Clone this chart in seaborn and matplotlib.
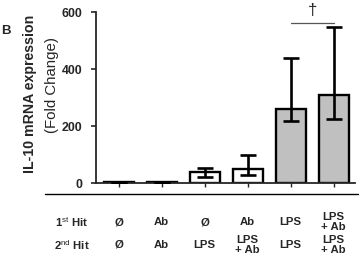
import matplotlib
matplotlib.use("Agg")
import matplotlib.pyplot as plt
import seaborn as sns
import pandas as pd
import numpy as np
from matplotlib.lines import Line2D
from matplotlib.transforms import blended_transform_factory

sns.set_style("ticks")
plt.rcParams['font.family'] = ['Liberation Sans', 'DejaVu Sans']
plt.rcParams['mathtext.fontset'] = 'custom'
plt.rcParams['mathtext.rm'] = 'Liberation Sans'
plt.rcParams['mathtext.bf'] = 'Liberation Sans:bold'

groups = ["G1", "G2", "G3", "G4", "G5", "G6"]
values = [3, 3, 39, 48, 260, 309]
err_low = [3, 3, 17, 21, 42, 84]
err_high = [0, 0, 12, 52, 178, 238]
first_hit = ["Ø", "Ab", "Ø", "Ab", "LPS", "LPS\n+ Ab"]
second_hit = ["Ø", "Ab", "LPS", "LPS\n+ Ab", "LPS", "LPS\n+ Ab"]
colors = ["white", "white", "white", "white", "#c0c0c0", "#c0c0c0"]
yticks = [0, 200, 400, 600]
sig_pair = (4, 5)
sig_y = 560

df = pd.DataFrame({"group": groups, "value": values})

fig = plt.figure(figsize=(3.62, 2.62), dpi=100)
ax = fig.add_axes([0.265, 0.3015, 0.715, 0.6525])

sns.barplot(data=df, x="group", y="value", hue="group", palette=colors,
            edgecolor="black", linewidth=1.7, width=0.7, legend=False, ax=ax,
            errorbar=None)
xs = np.arange(len(groups))
ax.errorbar(xs, values, yerr=[err_low, err_high], fmt="none", ecolor="black",
            elinewidth=1.9, capsize=6, capthick=1.9, zorder=5)

ax.set_ylim(0, 600)
ax.set_xlim(-0.53, 5.49)
ax.set_yticks(yticks)
ax.set_yticklabels([str(t) for t in yticks], fontsize=8.9, fontweight="bold")
ax.set_xticks(xs)
ax.set_xticklabels([])
ax.set_xlabel("")
ax.set_ylabel("")
ax.tick_params(axis="y", length=3.5, width=1.2, pad=6)
ax.tick_params(axis="x", length=3, width=1.0)
for s in ["top", "right"]:
    ax.spines[s].set_visible(False)
for s in ["left", "bottom"]:
    ax.spines[s].set_linewidth(1.3)

# significance
ax.plot([sig_pair[0], sig_pair[1]], [sig_y, sig_y], color="#555555", lw=0.9, clip_on=False)
ax.text(sum(sig_pair) / 2, sig_y + 18, "†", ha="center", va="bottom", fontsize=12,
        clip_on=False)

# y labels
fig.text(30 / 362, 1 - 94 / 262, "IL-10 mRNA expression", rotation=90, ha="center",
         va="center", fontsize=10.2, fontweight="bold")
fig.text(52 / 362, 1 - 85 / 262, "(Fold Change)", rotation=90, ha="center",
         va="center", fontsize=10.8)
fig.text(6 / 362, 1 - 31 / 262, "B", ha="center", va="center", fontsize=9.5,
         fontweight="bold")

# separator line
fig.add_artist(Line2D([45 / 362, 358 / 362], [1 - 194 / 262, 1 - 194 / 262],
                      color="black", lw=1.0))

# table rows
tr = blended_transform_factory(ax.transData, fig.transFigure)
row1_y = 1 - 222 / 262
row2_y = 1 - 245 / 262
fig.text(72 / 362, row1_y, r"1$^{\rm st}$ Hit", ha="center", va="center",
         fontsize=8.2, fontweight="bold")
fig.text(72 / 362, row2_y, r"2$^{\rm nd}$ Hit", ha="center", va="center",
         fontsize=8.2, fontweight="bold")
for i in range(len(groups)):
    ax.text(xs[i], row1_y, first_hit[i], transform=tr, ha="center", va="center",
            fontsize=8.2, fontweight="bold", linespacing=1.1)
    ax.text(xs[i], row2_y, second_hit[i], transform=tr, ha="center", va="center",
            fontsize=8.2, fontweight="bold", linespacing=1.1)

fig.savefig("out.png", dpi=100)
